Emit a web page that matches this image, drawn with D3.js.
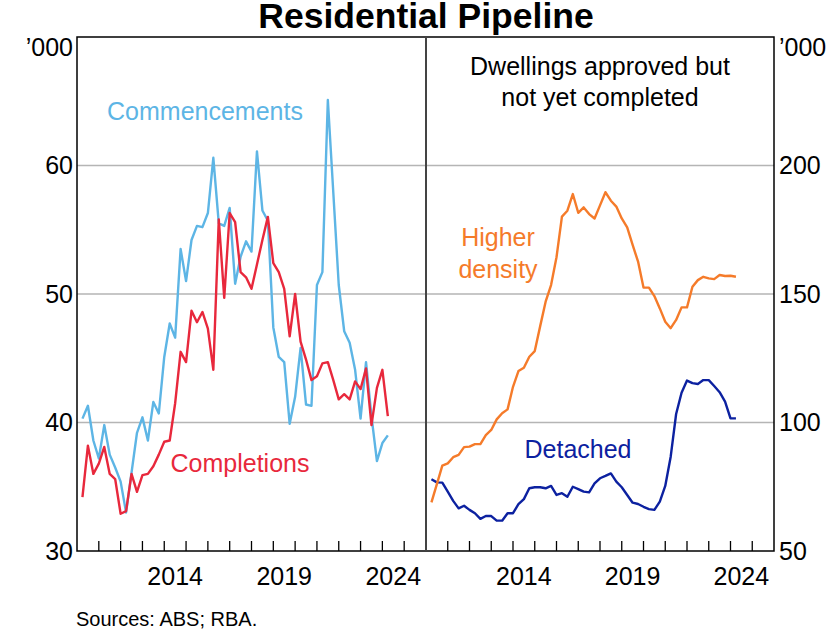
<!DOCTYPE html>
<html>
<head>
<meta charset="utf-8">
<script src="https://cdn.jsdelivr.net/npm/d3@7"></script>
<style>
  html, body { margin: 0; padding: 0; background: #fff; }
  svg { display: block; font-family: "Liberation Sans", Arial, sans-serif; }
</style>
</head>
<body>
<svg id="chart" width="836" height="644"></svg>
<script>
// ---- Data (quarterly, 2010 Q2 to 2024 Q2), '000 ----
const startQuarter = 2010.25;   // position of first observation (years)
const commencements = [40.3,41.3,38.6,37.2,39.8,37.5,36.5,35.4,33.0,36.1,
  39.2,40.4,38.6,41.6,40.7,45.1,47.7,46.6,53.5,51.0,
  54.2,55.3,55.2,56.3,60.6,55.5,55.3,56.7,50.8,52.9,
  54.1,53.3,61.1,56.5,55.7,47.4,45.1,44.7,39.9,42.0,
  45.8,41.4,41.3,50.7,51.7,65.1,57.9,50.7,47.1,46.2,
  44.1,40.3,44.7,40.5,37.0,38.4,39.0];
const completions = [34.2,38.2,36.0,36.8,38.1,36.0,35.6,32.9,33.1,36.0,
  34.6,35.9,36.0,36.6,37.5,38.5,38.6,41.5,45.5,44.7,
  48.7,47.8,48.6,47.3,44.1,55.8,49.7,56.3,55.6,51.7,
  51.3,50.4,52.3,54.2,56.0,52.4,51.7,50.4,46.7,50.0,
  46.3,44.9,43.3,43.6,44.6,44.7,43.3,41.8,42.2,41.8,
  43.2,42.6,44.2,39.8,42.7,44.1,40.5];
const higherDensity = [68.9,76.0,83.2,84.1,86.5,87.4,90.4,90.6,91.6,91.6,
  95.1,97.1,101.2,103.6,105.1,113.9,120.0,121.3,125.6,127.8,
  137.5,147.0,153.5,164.3,180.1,182.4,188.9,181.6,183.7,181.1,
  179.4,184.5,189.6,186.3,184.0,179.4,175.9,169.1,162.6,152.5,
  152.5,149.2,144.4,139.2,136.7,139.9,144.8,144.8,152.8,155.4,
  156.7,156.1,155.8,157.4,157.0,157.1,156.7];
const detached = [77.9,76.7,76.6,73.1,69.5,66.6,67.6,66.0,64.7,62.5,
  63.6,63.6,61.8,61.8,64.7,64.7,68.2,70.2,74.4,74.8,
  74.8,74.4,75.3,71.8,72.5,71.1,75.0,74.1,73.1,72.8,
  76.3,78.3,79.2,80.2,77.0,74.8,71.8,68.8,68.3,67.2,
  66.3,66.0,69.2,75.3,86.7,103.3,111.6,116.3,115.3,115.0,
  116.5,116.5,114.2,111.8,108.1,101.6,101.6];
const leftTicks = [30, 40, 50, 60];
const rightTicks = [50, 100, 150, 200];
const yearLabels = [2014, 2019, 2024];
const xDomain = [2010, 2026];

const colors = {
  commencements: "#5db5e5",
  completions: "#e8283c",
  higher: "#f57b2a",
  detached: "#0c21a0"
};

// ---- Layout ----
const svg = d3.select("#chart");
const plotTop = 37, plotBottom = 551;
const L = { x0: 77, x1: 426 };
const R = { x0: 426, x1: 774 };
const fs = 25;

const xL = d3.scaleLinear().domain(xDomain).range([L.x0, L.x1]);
const xR = d3.scaleLinear().domain(xDomain).range([R.x0, R.x1]);
const yL = d3.scaleLinear().domain([30, 70]).range([plotBottom, plotTop]);
const yR = d3.scaleLinear().domain([50, 250]).range([plotBottom, plotTop]);

const times = commencements.map((_, i) => startQuarter + i * 0.25);

// gridlines (shared levels)
[40, 50, 60].forEach(v => {
  svg.append("line")
    .attr("x1", L.x0).attr("x2", R.x1)
    .attr("y1", yL(v)).attr("y2", yL(v))
    .attr("stroke", "#b5b5b5").attr("stroke-width", 1.3);
});

// x ticks (inside, upward)
function xTicks(x) {
  const years = d3.range(xDomain[0] + 1, xDomain[1]);
  svg.append("g").selectAll("line").data(years).join("line")
    .attr("x1", d => x(d)).attr("x2", d => x(d))
    .attr("y1", plotBottom).attr("y2", plotBottom - 10)
    .attr("stroke", "#000").attr("stroke-width", 1.3);
  svg.append("g").selectAll("text").data(yearLabels).join("text")
    .attr("x", d => x(d + 0.5)).attr("y", 585)
    .attr("text-anchor", "middle").attr("font-size", fs).attr("fill", "#000")
    .text(d => d);
}
xTicks(xL);
xTicks(xR);

// y tick labels
svg.append("g").selectAll("text").data(leftTicks).join("text")
  .attr("x", 73).attr("y", d => yL(d)).attr("dy", "0.35em")
  .attr("text-anchor", "end").attr("font-size", fs).text(d => d);
svg.append("g").selectAll("text").data(rightTicks).join("text")
  .attr("x", 779).attr("y", d => yR(d)).attr("dy", "0.35em")
  .attr("text-anchor", "start").attr("font-size", fs).text(d => d);
svg.append("text").attr("x", 73).attr("y", 56).attr("text-anchor", "end")
  .attr("font-size", fs).text("\u2019000");
svg.append("text").attr("x", 779).attr("y", 56).attr("text-anchor", "start")
  .attr("font-size", fs).text("\u2019000");

// lines
function drawLine(vals, x, y, color) {
  const line = d3.line().x((d, i) => x(times[i])).y(d => y(d));
  svg.append("path").datum(vals)
    .attr("d", line).attr("fill", "none")
    .attr("stroke", color).attr("stroke-width", 2.4)
    .attr("stroke-linejoin", "round");
}
drawLine(commencements, xL, yL, colors.commencements);
drawLine(completions, xL, yL, colors.completions);
drawLine(detached, xR, yR, colors.detached);
drawLine(higherDensity, xR, yR, colors.higher);

// frame
svg.append("rect").attr("x", L.x0).attr("y", plotTop)
  .attr("width", R.x1 - L.x0).attr("height", plotBottom - plotTop)
  .attr("fill", "none").attr("stroke", "#000").attr("stroke-width", 1.5);
svg.append("line").attr("x1", 426).attr("x2", 426).attr("y1", plotTop).attr("y2", plotBottom)
  .attr("stroke", "#444").attr("stroke-width", 2);

// annotations
function label(txt, x, y, color, anchor = "middle") {
  svg.append("text").attr("x", x).attr("y", y).attr("text-anchor", anchor)
    .attr("font-size", fs).attr("fill", color).text(txt);
}
label("Commencements", 205, 120, colors.commencements);
label("Completions", 240, 472, colors.completions);
label("Dwellings approved but", 600, 75, "#000");
label("not yet completed", 600, 106, "#000");
label("Higher", 498, 246, colors.higher);
label("density", 498, 278, colors.higher);
label("Detached", 578, 458, colors.detached);

// title & source
svg.append("text").attr("x", 426).attr("y", 28).attr("text-anchor", "middle")
  .attr("font-size", 35.5).attr("font-weight", "bold").text("Residential Pipeline");
svg.append("text").attr("x", 76).attr("y", 626).attr("font-size", 20)
  .text("Sources: ABS; RBA.");
</script>
</body>
</html>
